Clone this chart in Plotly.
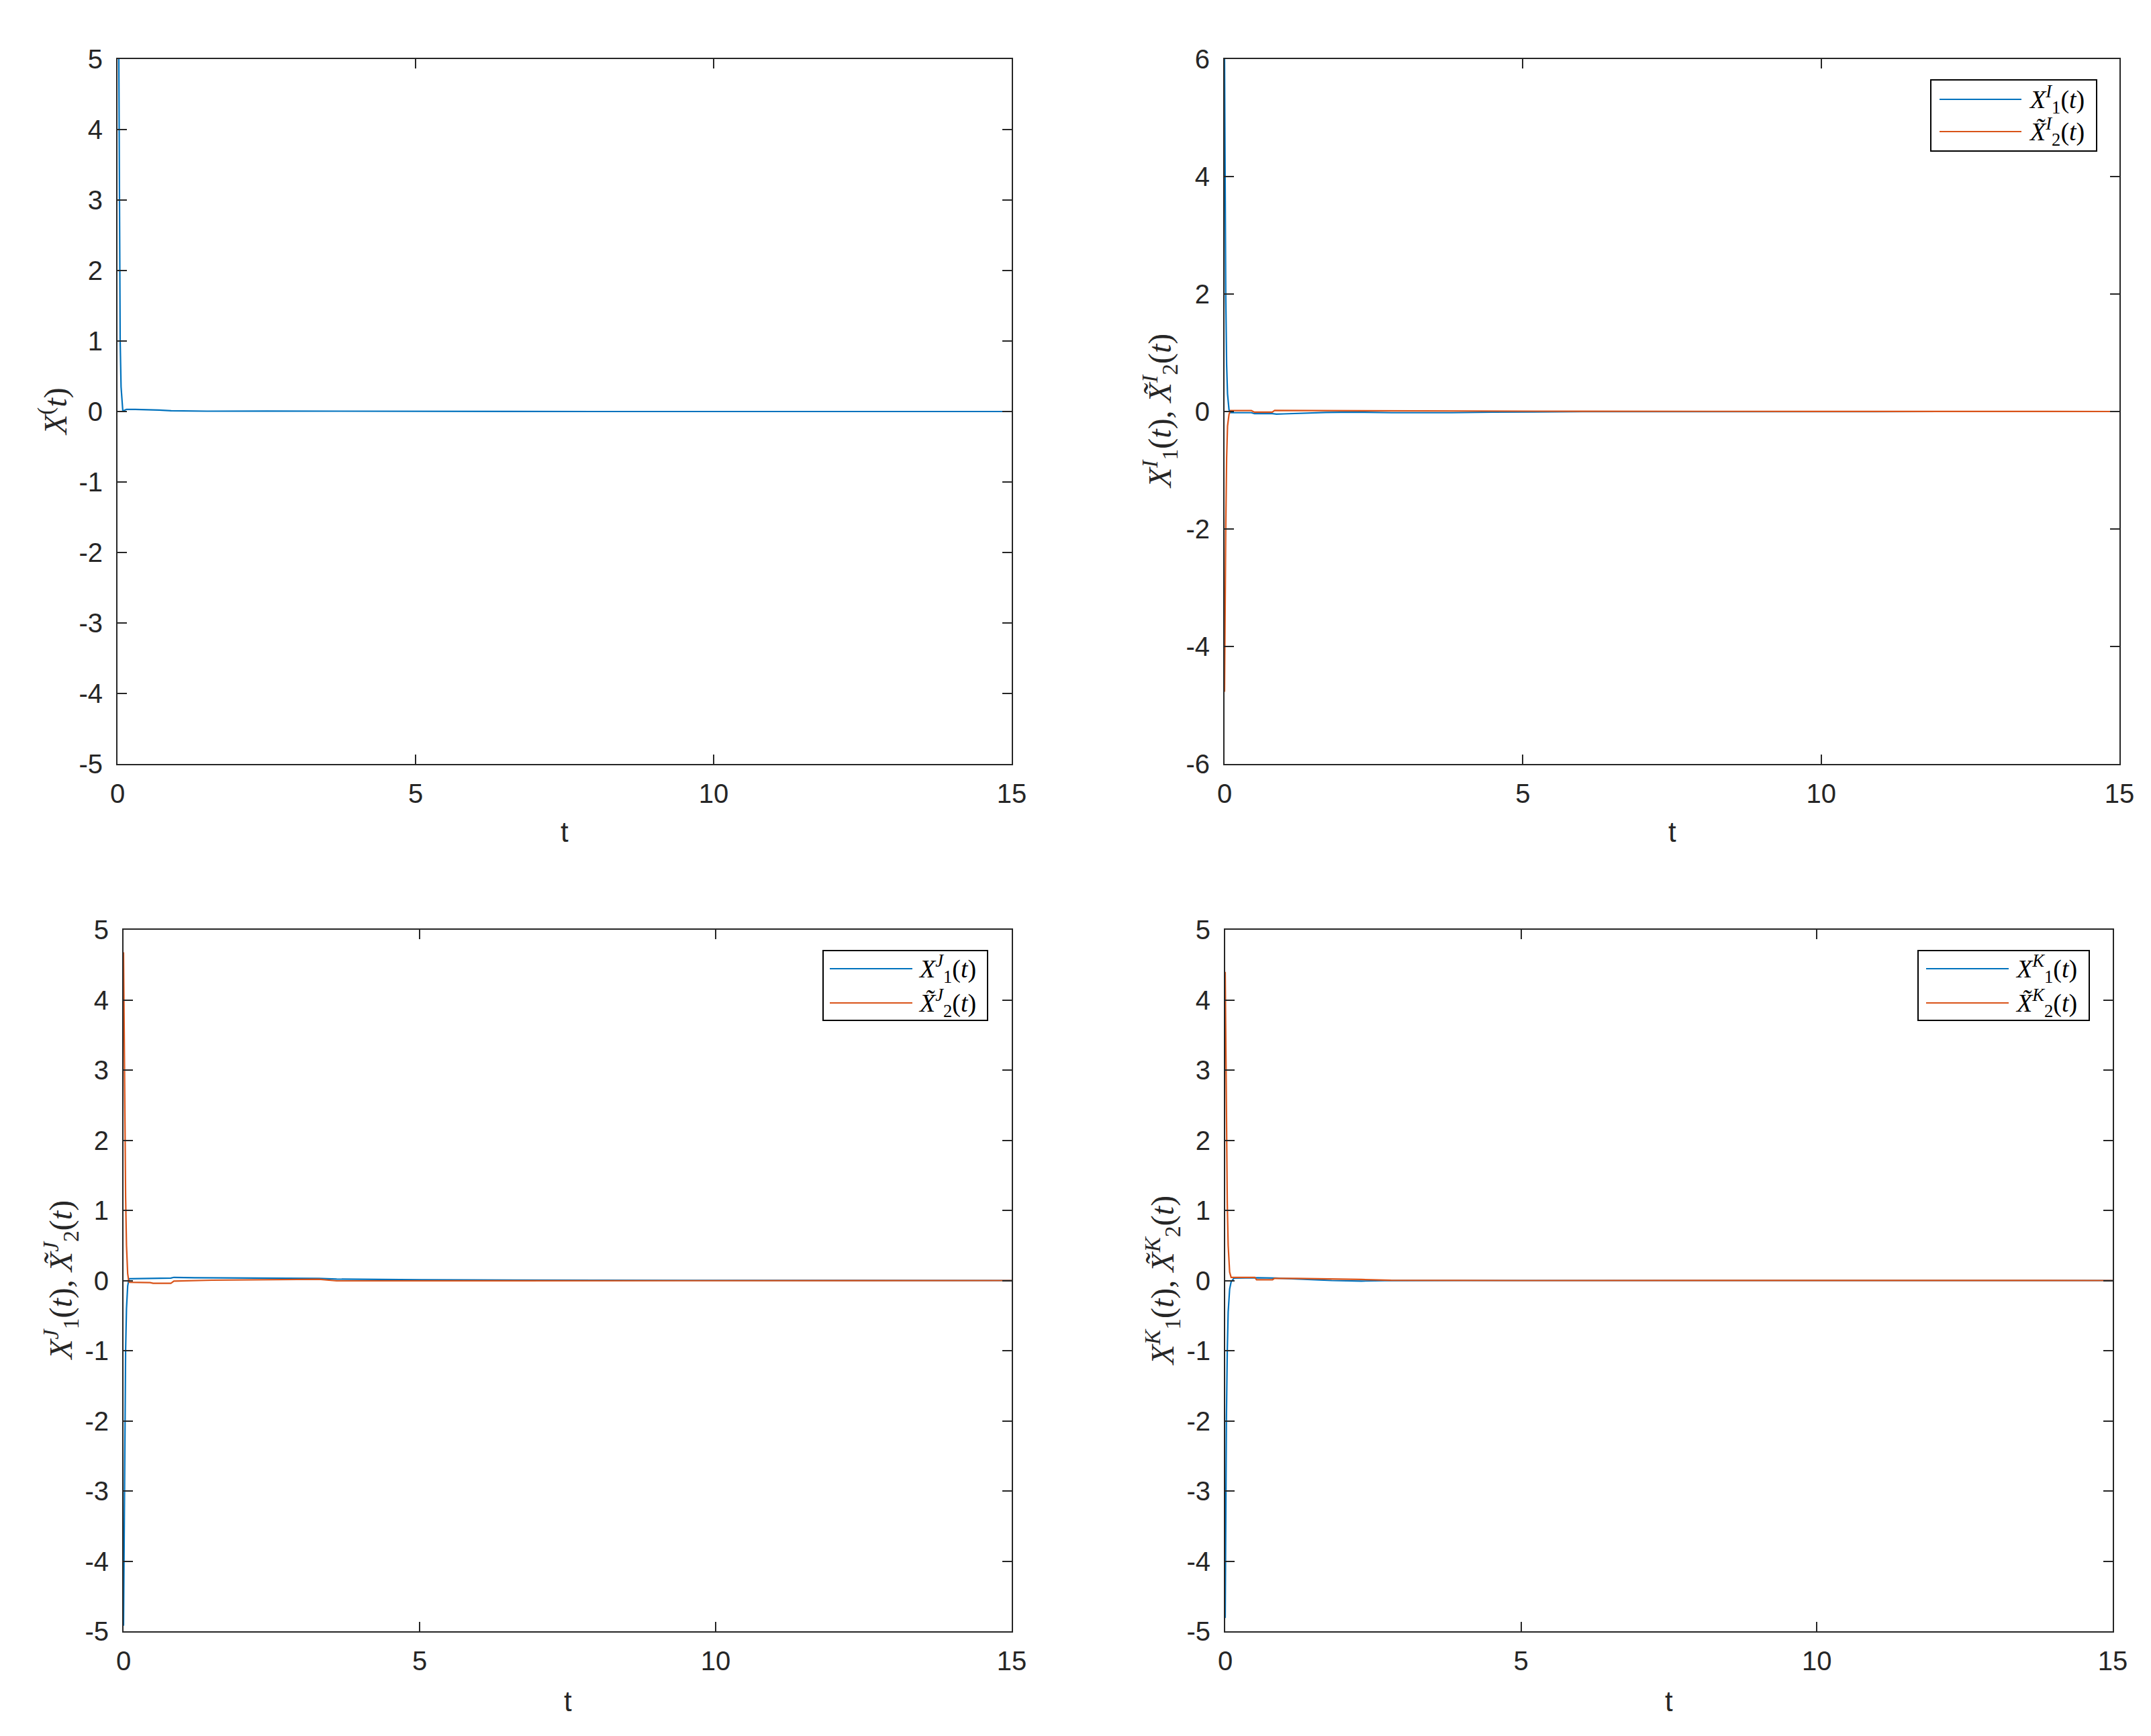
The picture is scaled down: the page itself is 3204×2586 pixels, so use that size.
import plotly.graph_objects as go

W, H = 3204, 2586
OFF = 8  # page body margin compensation

BLUE = "#0072BD"
ORANGE = "#D95319"
AX = "#262626"

# ---------------- data ----------------
# Panel 1: X(t)
tA = [0, 0.023, 0.045, 0.06, 0.076, 0.09, 0.11, 0.15, 0.3, 0.5, 0.7, 0.9, 1.5, 2.5, 3.5, 4.5, 6, 8, 10, 12, 15]
xA = [9.0, 5.0, 1.0, 0.35, 0.1, 0.0, 0.015, 0.03, 0.03, 0.028, 0.02, 0.01, 0.005, 0.006, 0.004, 0.002, 0.0, 0.0, 0.0, 0.0, 0.0]

# Panel 2: I component
tI1 = [0, 0.01, 0.02, 0.035, 0.05, 0.075, 0.1, 0.45, 0.5, 0.8, 0.87, 1.0, 1.7, 2.2, 2.8, 3.8, 4.5, 6, 8, 10, 12, 15]
xI1 = [6.0, 3.6, 2.0, 0.8, 0.3, 0.03, -0.02, -0.02, -0.035, -0.035, -0.045, -0.04, -0.015, -0.01, -0.02, -0.02, -0.01, -0.003, 0.0, 0.003, 0.0, 0.0]
tI2 = [0, 0.01, 0.02, 0.035, 0.05, 0.075, 0.1, 0.45, 0.5, 0.8, 0.84, 1.5, 3, 6, 10, 15]
xI2 = [-4.77, -3.2, -2.0, -0.8, -0.25, -0.05, 0.015, 0.015, -0.01, -0.01, 0.018, 0.015, 0.01, 0.004, 0.002, 0.0]

# Panel 3: J component
tJ1 = [0, 0.01, 0.02, 0.035, 0.05, 0.07, 0.09, 0.1, 0.8, 0.85, 1.2, 2.0, 3.3, 3.6, 5, 8, 15]
xJ1 = [-4.92, -3.5, -2.2, -1.0, -0.4, -0.08, 0.015, 0.025, 0.035, 0.045, 0.04, 0.035, 0.03, 0.02, 0.01, 0.003, 0.0]
tJ2 = [0, 0.01, 0.02, 0.035, 0.05, 0.07, 0.09, 0.1, 0.45, 0.5, 0.8, 0.85, 1.5, 2.5, 3.3, 3.6, 4.5, 6, 15]
xJ2 = [4.68, 3.5, 2.3, 1.2, 0.5, 0.1, -0.02, -0.025, -0.03, -0.04, -0.04, -0.008, 0.005, 0.015, 0.018, -0.005, -0.005, 0.0, 0.0]

# Panel 4: K component
tK1 = [0, 0.01, 0.02, 0.035, 0.05, 0.075, 0.1, 0.15, 0.5, 0.55, 0.85, 1.2, 1.8, 2.3, 2.7, 4, 15]
xK1 = [-4.81, -3.3, -2.0, -1.0, -0.45, -0.12, -0.02, 0.035, 0.045, 0.04, 0.035, 0.02, 0.0, -0.008, -0.002, 0.0, 0.0]
tK2 = [0, 0.01, 0.02, 0.035, 0.05, 0.075, 0.1, 0.5, 0.53, 0.8, 0.83, 1.2, 2.3, 2.8, 5, 7, 10, 15]
xK2 = [4.4, 3.3, 2.2, 1.1, 0.5, 0.12, 0.045, 0.045, 0.01, 0.01, 0.03, 0.03, 0.015, 0.003, 0.0, 0.003, 0.002, 0.0]

x_ticks = [0, 5, 10, 15]
x_ticktext = ["0", "5", "10", "15"]
y_ticks_5 = [-5, -4, -3, -2, -1, 0, 1, 2, 3, 4, 5]
y_ticktext_5 = ["-5", "-4", "-3", "-2", "-1", "0", "1", "2", "3", "4", "5"]
y_ticks_6 = [-6, -4, -2, 0, 2, 4, 6]
y_ticktext_6 = ["-6", "-4", "-2", "0", "2", "4", "6"]

# ---------------- layout helpers ----------------
def px(xp):
    return (xp - OFF) / W

def py(yp):
    return 1 - (yp - OFF) / H

# axis boxes in page pixels: (left, right, top, bottom)
boxes = {
    1: (175, 1507, 88, 1138),
    2: (1824, 3157, 88, 1138),
    3: (184, 1507, 1385, 2430),
    4: (1825, 3147, 1385, 2430),
}

fig = go.Figure()

def add_line(t, v, color, ax):
    sfx = "" if ax == 1 else str(ax)
    fig.add_trace(go.Scatter(x=t, y=v, mode="lines", line=dict(color=color, width=2.2),
                             xaxis="x" + sfx, yaxis="y" + sfx, showlegend=False,
                             hoverinfo="skip"))

add_line(tA, xA, BLUE, 1)
add_line(tI1, xI1, BLUE, 2)
add_line(tI2, xI2, ORANGE, 2)
add_line(tJ1, xJ1, BLUE, 3)
add_line(tJ2, xJ2, ORANGE, 3)
add_line(tK1, xK1, BLUE, 4)
add_line(tK2, xK2, ORANGE, 4)

tickfont = dict(family="Liberation Sans, Arial, sans-serif", size=40, color=AX)

layout = dict(width=W, height=H, margin=dict(l=0, r=0, t=0, b=0, autoexpand=False),
              template="none",
              paper_bgcolor="white", plot_bgcolor="white", showlegend=False)

for i, (l, r, t, b) in boxes.items():
    sfx = "" if i == 1 else str(i)
    yr = [-6, 6] if i == 2 else [-5, 5]
    yt = y_ticks_6 if i == 2 else y_ticks_5
    ytt = y_ticktext_6 if i == 2 else y_ticktext_5
    layout["xaxis" + sfx] = dict(
        domain=[px(l), px(r)], range=[0, 15], anchor="y" + sfx, automargin=False,
        tickvals=x_ticks, ticktext=x_ticktext, ticks="inside", ticklen=14,
        tickwidth=2, tickcolor=AX, showline=True, linecolor=AX, linewidth=2,
        mirror="ticks", showgrid=False, zeroline=False, tickfont=tickfont,
        ticklabelstandoff=8)
    layout["yaxis" + sfx] = dict(
        domain=[py(b), py(t)], range=yr, anchor="x" + sfx, automargin=False,
        tickvals=yt, ticktext=ytt, ticks="inside", ticklen=14,
        tickwidth=2, tickcolor=AX, showline=True, linecolor=AX, linewidth=2,
        mirror="ticks", showgrid=False, zeroline=False, tickfont=tickfont,
        ticklabelstandoff=12)

fig.update_layout(**layout)

mathfont = dict(family="Liberation Serif, DejaVu Serif, serif", size=48, color=AX)
sansfont = dict(family="Liberation Sans, Arial, sans-serif", size=42, color=AX)

ylabels = {
    1: "<i>X</i><sup>(</sup><i>t</i>)",
    2: "<i>X</i><sup><i>I</i></sup><sub>1</sub>(<i>t</i>), <i>X\u0303</i><sup><i>I</i></sup><sub>2</sub>(<i>t</i>)",
    3: "<i>X</i><sup><i>J</i></sup><sub>1</sub>(<i>t</i>), <i>X\u0303</i><sup><i>J</i></sup><sub>2</sub>(<i>t</i>)",
    4: "<i>X</i><sup><i>K</i></sup><sub>1</sub>(<i>t</i>), <i>X\u0303</i><sup><i>K</i></sup><sub>2</sub>(<i>t</i>)",
}
ylabel_x = {1: 80, 2: 1728, 3: 90, 4: 1731}
xlabel_y = {1: 1240, 2: 1240, 3: 2534, 4: 2534}

for i, (l, r, t, b) in boxes.items():
    fig.add_annotation(text=ylabels[i], x=px(ylabel_x[i]), y=py((t + b) / 2),
                       xref="paper", yref="paper", textangle=-90, showarrow=False,
                       xanchor="center", yanchor="middle", font=mathfont)
    fig.add_annotation(text="t", x=px((l + r) / 2), y=py(xlabel_y[i]),
                       xref="paper", yref="paper", showarrow=False,
                       xanchor="center", yanchor="middle", font=sansfont)

# ---------------- legends (drawn as boxes) ----------------
legends = [
    # box (l, t, r, b), line (x0, x1), entry y's, text x, labels
    ((2876, 119, 3123, 225), (2889, 3011), (148, 196), 3020, "I"),
    ((1226, 1416, 1471, 1520), (1236, 1359), (1443, 1494), 1366, "J"),
    ((2857, 1416, 3112, 1520), (2869, 2992), (1443, 1494), 3000, "K"),
]
legfont = dict(family="Liberation Serif, DejaVu Serif, serif", size=38, color="black")
for (bl, bt, br, bb), (lx0, lx1), (ey1, ey2), tx, sup in legends:
    fig.add_shape(type="rect", xref="paper", yref="paper",
                  x0=px(bl), x1=px(br), y0=py(bb), y1=py(bt),
                  line=dict(color="black", width=2), fillcolor="white", layer="above")
    for ey, col, lab in [
        (ey1, BLUE, "<i>X</i><sup><i>%s</i></sup><sub>1</sub>(<i>t</i>)" % sup),
        (ey2, ORANGE, "<i>X\u0303</i><sup><i>%s</i></sup><sub>2</sub>(<i>t</i>)" % sup),
    ]:
        fig.add_shape(type="line", xref="paper", yref="paper",
                      x0=px(lx0), x1=px(lx1), y0=py(ey), y1=py(ey),
                      line=dict(color=col, width=2.2), layer="above")
        fig.add_annotation(text=lab, x=px(tx), y=py(ey), xref="paper", yref="paper",
                           showarrow=False, xanchor="left", yanchor="middle", font=legfont)

fig.write_html("out.html")
